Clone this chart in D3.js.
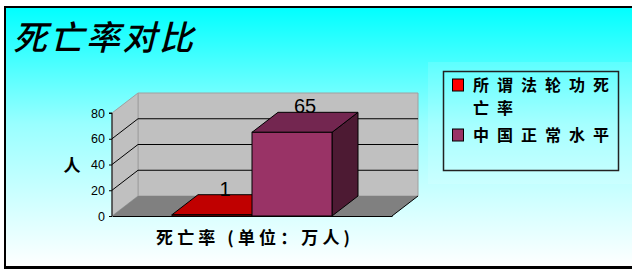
<!DOCTYPE html>
<html>
<head>
<meta charset="utf-8">
<script src="https://cdn.jsdelivr.net/npm/d3@7"></script>
<style>
  html, body { margin: 0; padding: 0; background: #ffffff; }
  svg { display: block; }
</style>
</head>
<body>
<div id="chart"></div>
<script>
// chart data
const title = '死亡率对比';
const categories = ['死亡率 (单位：万人)'];
const seriesNames = ['所谓法轮功死亡率', '中国正常水平'];
const seriesValues = [1, 65];
const yTicks = [0, 20, 40, 60, 80];
const yTitle = '人';

const width = 632, height = 271;
const depth = { dx: 26, dy: -20 }; // 3d offset of the back plane
const plot = { left: 112, right: 392, bottom: 216, top: 113 };

const colors = [
  { front: '#ff0000', top: '#c00000', side: '#800000', legend: '#ff0000' },
  { front: '#993366', top: '#732650', side: '#4d1a33', legend: '#993366' }
];

const svg = d3.select('#chart')
  .append('svg')
  .attr('width', width)
  .attr('height', height);

// background gradient
const grad = svg.append('defs').append('linearGradient')
  .attr('id', 'bg')
  .attr('x1', 0).attr('y1', 0).attr('x2', 0).attr('y2', 1);
grad.append('stop').attr('offset', 0).attr('stop-color', '#00ffff');
grad.append('stop').attr('offset', 0.45).attr('stop-color', '#99ffff');
grad.append('stop').attr('offset', 1).attr('stop-color', '#ffffff');

svg.append('rect')
  .attr('x', 5).attr('y', 7)
  .attr('width', 700).attr('height', 260)
  .attr('fill', 'url(#bg)')
  .attr('stroke', '#000')
  .attr('stroke-width', 2);
svg.append('line')
  .attr('x1', 4).attr('x2', width)
  .attr('y1', 268).attr('y2', 268)
  .attr('stroke', '#000').attr('stroke-width', 2);

// faint lighter panel behind the legend
svg.append('rect')
  .attr('x', 428).attr('y', 62)
  .attr('width', 210).attr('height', 122)
  .attr('fill', '#ffffff').attr('opacity', 0.12);

// title
svg.append('text')
  .attr('x', 13).attr('y', 50)
  .attr('textLength', 180)
  .attr('lengthAdjust', 'spacing')
  .style('font-family', '"Noto Sans CJK SC", sans-serif')
  .style('font-size', '34px')
  .style('font-style', 'italic')
  .style('font-weight', 500)
  .style('fill', '#000')
  .text(title);

// scales
const y = d3.scaleLinear().domain([0, 80]).range([plot.bottom, plot.top]);
const xCat = d3.scaleBand().domain(categories).range([plot.left, plot.right]);
// gap width 150% of a bar
const barW = xCat.bandwidth() / (seriesNames.length + 1.5);
const xSer = d3.scaleBand()
  .domain(seriesNames)
  .range([xCat(categories[0]) + barW * 0.75, xCat(categories[0]) + xCat.bandwidth() - barW * 0.75]);

const g = svg.append('g');
const pts = p => p.map(d => d.join(',')).join(' ');

// back wall
g.append('polygon')
  .attr('points', pts([
    [plot.left + depth.dx, plot.top + depth.dy],
    [plot.right + depth.dx, plot.top + depth.dy],
    [plot.right + depth.dx, plot.bottom + depth.dy],
    [plot.left + depth.dx, plot.bottom + depth.dy]
  ]))
  .attr('fill', '#c0c0c0').attr('stroke', '#a0a0a0').attr('stroke-width', 1);

// left wall
g.append('polygon')
  .attr('points', pts([
    [plot.left, plot.top],
    [plot.left + depth.dx, plot.top + depth.dy],
    [plot.left + depth.dx, plot.bottom + depth.dy],
    [plot.left, plot.bottom]
  ]))
  .attr('fill', '#c0c0c0').attr('stroke', '#a0a0a0').attr('stroke-width', 1);

// floor
g.append('polygon')
  .attr('points', pts([
    [plot.left, plot.bottom],
    [plot.left + depth.dx, plot.bottom + depth.dy],
    [plot.right + depth.dx, plot.bottom + depth.dy],
    [plot.right, plot.bottom]
  ]))
  .attr('fill', '#808080');
g.append('line')
  .attr('x1', plot.right).attr('y1', plot.bottom)
  .attr('x2', plot.right + depth.dx).attr('y2', plot.bottom + depth.dy)
  .attr('stroke', '#000');

// gridlines on the walls
const inner = yTicks.filter(t => t > 0 && t < 80);
g.selectAll('.grid-side')
  .data(inner)
  .enter().append('line')
  .attr('x1', plot.left).attr('y1', d => y(d))
  .attr('x2', plot.left + depth.dx).attr('y2', d => y(d) + depth.dy)
  .attr('stroke', '#000').attr('stroke-width', 1);
g.selectAll('.grid-back')
  .data(inner)
  .enter().append('line')
  .attr('x1', plot.left + depth.dx).attr('y1', d => y(d) + depth.dy)
  .attr('x2', plot.right + depth.dx).attr('y2', d => y(d) + depth.dy)
  .attr('stroke', '#000').attr('stroke-width', 1);

// bars
seriesNames.forEach((name, i) => {
  const v = seriesValues[i];
  const x0 = xSer(name), x1 = x0 + xSer.bandwidth();
  const yv = y(v), y0 = y(0);
  const c = colors[i];
  const bar = g.append('g');
  bar.append('polygon')
    .attr('points', pts([[x1, yv], [x1 + depth.dx, yv + depth.dy], [x1 + depth.dx, y0 + depth.dy], [x1, y0]]))
    .attr('fill', c.side).attr('stroke', '#000').attr('stroke-width', 1);
  bar.append('polygon')
    .attr('points', pts([[x0, yv], [x1, yv], [x1 + depth.dx, yv + depth.dy], [x0 + depth.dx, yv + depth.dy]]))
    .attr('fill', c.top).attr('stroke', '#000').attr('stroke-width', 1);
  bar.append('rect')
    .attr('x', x0).attr('y', yv)
    .attr('width', x1 - x0).attr('height', y0 - yv)
    .attr('fill', c.front).attr('stroke', '#000').attr('stroke-width', 1);
});

// data labels
g.selectAll('.label')
  .data(seriesValues)
  .enter().append('text')
  .attr('x', (d, i) => xSer(seriesNames[i]) + xSer.bandwidth() / 2 + depth.dx / 2)
  .attr('y', d => y(d) + depth.dy + 1)
  .attr('text-anchor', 'middle')
  .style('font-family', '"Liberation Sans", Arial, sans-serif')
  .style('font-size', '20px')
  .style('fill', '#000')
  .text(d => d);

// y axis
const yAxis = d3.axisLeft(y)
  .tickValues(yTicks)
  .tickSize(3)
  .tickPadding(4);
const ax = svg.append('g')
  .attr('transform', `translate(${plot.left},0)`)
  .call(yAxis);
ax.select('.domain').attr('stroke', '#000').attr('d', `M-3,${plot.top}H0V${plot.bottom}`);
ax.selectAll('.tick line').attr('stroke', '#000');
ax.selectAll('.tick text')
  .style('font-family', '"Liberation Sans", Arial, sans-serif')
  .style('font-size', '12.5px')
  .attr('fill', '#000');

// x axis (front edge of the floor)
const xAxis = d3.axisBottom(xCat).tickSize(0).tickFormat('');
svg.append('g')
  .attr('transform', `translate(0,${plot.bottom})`)
  .call(xAxis)
  .select('.domain').attr('stroke', '#000');

// axis titles
svg.append('text')
  .attr('x', xCat(categories[0]) + xCat.bandwidth() / 2 + 1)
  .attr('y', 244)
  .attr('text-anchor', 'middle')
  .attr('textLength', 194)
  .attr('lengthAdjust', 'spacing')
  .style('font-family', '"Noto Sans CJK SC", sans-serif')
  .style('font-size', '17px')
  .style('font-weight', 'bold')
  .text(categories[0]);

svg.append('text')
  .attr('x', 72).attr('y', 172)
  .attr('text-anchor', 'middle')
  .style('font-family', '"Noto Sans CJK SC", sans-serif')
  .style('font-size', '17px')
  .style('font-weight', 'bold')
  .text(yTitle);

// legend
const legend = svg.append('g');
legend.append('rect')
  .attr('x', 443.5).attr('y', 71.5)
  .attr('width', 175).attr('height', 99)
  .attr('fill', 'none')
  .attr('stroke', '#222').attr('stroke-width', 1.5);

const wrapAt = 6;
const charPitch = 24;
const glyphW = 16;
const lineGap = 23;
const legendRows = [91, 141];
seriesNames.forEach((name, i) => {
  const row = legend.append('g');
  row.append('rect')
    .attr('x', 452.5).attr('y', legendRows[i] - 12)
    .attr('width', 11).attr('height', 12)
    .attr('fill', colors[i].legend)
    .attr('stroke', '#000');
  const lines = [];
  for (let k = 0; k < name.length; k += wrapAt) lines.push(name.slice(k, k + wrapAt));
  lines.forEach((ln, j) => {
    row.append('text')
      .attr('x', 473)
      .attr('y', legendRows[i] + j * lineGap)
      .attr('textLength', (ln.length - 1) * charPitch + glyphW)
      .attr('lengthAdjust', 'spacing')
      .style('font-family', '"Noto Sans CJK SC", sans-serif')
      .style('font-size', '16px')
      .style('font-weight', 'bold')
      .text(ln);
  });
});
</script>
</body>
</html>
